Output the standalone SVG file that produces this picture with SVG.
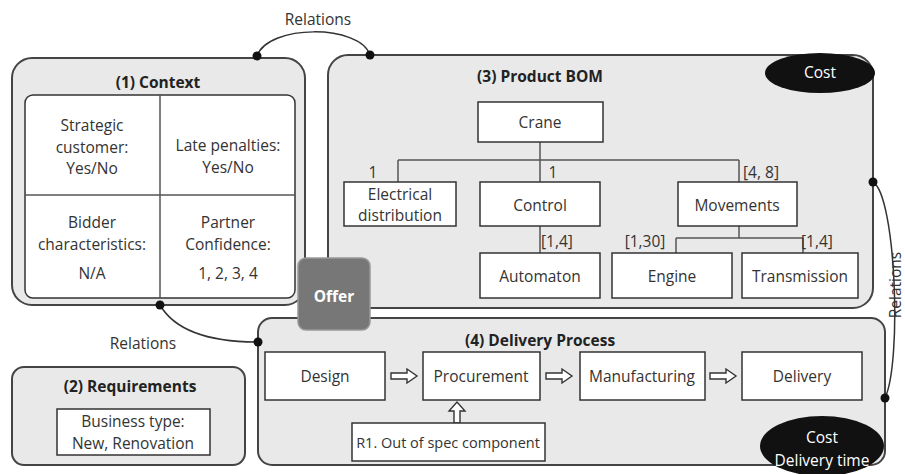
<svg xmlns="http://www.w3.org/2000/svg" width="905" height="474" viewBox="0 0 905 474">
<style>
text{font-family:"Open Sans","Liberation Sans",sans-serif;font-size:15.5px;fill:#333;text-anchor:middle;dominant-baseline:central}
.t{font-weight:bold;fill:#222;font-size:15.5px}
.panel{fill:#e9e9e9;stroke:#444;stroke-width:2}
.box{fill:#fff;stroke:#333;stroke-width:1.5}
.ln{fill:none;stroke:#555;stroke-width:1.5}
.rel{fill:none;stroke:#333;stroke-width:1.5}
.dot{fill:#111}
.ha{fill:#fff;stroke:#333;stroke-width:1.4}
.w{fill:#fff}
</style>
<g id="context">
<rect class="panel" x="12" y="58" width="293" height="247" rx="20"/>
<text class="t" x="158" y="82">(1) Context</text>
<rect class="box" x="25" y="95" width="270" height="203" rx="8"/>
<line class="ln" x1="160" y1="95" x2="160" y2="298" stroke="#333"/>
<line class="ln" x1="25" y1="195" x2="295" y2="195" stroke="#333"/>
<text x="92" y="125">Strategic</text>
<text x="92" y="147">customer:</text>
<text x="92" y="168">Yes/No</text>
<text x="228" y="145">Late penalties:</text>
<text x="228" y="167">Yes/No</text>
<text x="92" y="222">Bidder</text>
<text x="92" y="244">characteristics:</text>
<text x="92" y="273">N/A</text>
<text x="228" y="222">Partner</text>
<text x="228" y="244">Confidence:</text>
<text x="228" y="273">1, 2, 3, 4</text>
</g>
<g id="requirements">
<rect class="panel" x="12" y="367" width="233" height="98" rx="12"/>
<text class="t" x="130" y="386">(2) Requirements</text>
<rect class="box" x="57" y="409" width="153" height="46"/>
<text x="133" y="421">Business type:</text>
<text x="133" y="443">New, Renovation</text>
</g>
<g id="product-bom">
<rect class="panel" x="328" y="55" width="545" height="253" rx="20"/>
<text class="t" x="540" y="76">(3) Product BOM</text>
<ellipse cx="820" cy="73" rx="55" ry="20" fill="#111"/>
<text class="w" x="820" y="72">Cost</text>
</g>
<g id="delivery-process">
<rect class="panel" x="258" y="318" width="627" height="147" rx="14"/>
<text class="t" x="540" y="340">(4) Delivery Process</text>
<ellipse cx="822" cy="446" rx="62" ry="30" fill="#111"/>
<text class="w" x="822" y="437">Cost</text>
<text class="w" x="822" y="460">Delivery time</text>
</g>
<g id="offer">
<rect x="298" y="258" width="72" height="72" rx="8" fill="#777" stroke="#999" stroke-width="1.5"/>
<text class="t w" x="334" y="296">Offer</text>
</g>
<g id="connectors">
<path class="ln" d="M540,142 V160 M398,160 H739 M398,160 V182 M540,160 V182 M739,160 V182 M540,226 V253 M739,226 V238 M676,238 H803 M676,238 V253 M803,238 V253"/>
<path class="ha" d="M391,373 h16 v-4 l10,7 l-10,7 v-4 h-16 z"/>
<path class="ha" d="M546,373 h16 v-4 l10,7 l-10,7 v-4 h-16 z"/>
<path class="ha" d="M710,373 h16 v-4 l10,7 l-10,7 v-4 h-16 z"/>
<path class="ha" d="M454,423 v-12 h-5 l8,-9 l8,9 h-5 v12 z"/>
<path class="rel" d="M257,56 C268,24 360,24 370,55"/>
<path class="rel" d="M160,305 C178,336 222,342 258,342"/>
<path class="rel" d="M873,182 C896,196 902,362 885,398"/>
<circle class="dot" cx="257" cy="56" r="4.5"/>
<circle class="dot" cx="370" cy="55" r="4.5"/>
<circle class="dot" cx="160" cy="305" r="4.5"/>
<circle class="dot" cx="258" cy="342" r="4.5"/>
<circle class="dot" cx="873" cy="182" r="4.5"/>
<circle class="dot" cx="885" cy="398" r="4.5"/>
<text x="318" y="19">Relations</text>
<text x="143" y="343">Relations</text>
<text x="895" y="285" transform="rotate(-90 895 285)">Relations</text>
<text x="373" y="172">1</text>
<text x="553" y="172">1</text>
<text x="761" y="172">[4, 8]</text>
<text x="557" y="241">[1,4]</text>
<text x="645" y="241">[1,30]</text>
<text x="817" y="241">[1,4]</text>
</g>
<g id="crane"><rect class="box" x="478" y="102" width="125" height="40"/><text x="540" y="122">Crane</text></g>
<g id="electrical"><rect class="box" x="344" y="182" width="112" height="44"/><text x="400" y="194">Electrical</text><text x="400" y="215">distribution</text></g>
<g id="control"><rect class="box" x="480" y="182" width="120" height="44"/><text x="540" y="205">Control</text></g>
<g id="movements"><rect class="box" x="678" y="182" width="119" height="44"/><text x="737" y="205">Movements</text></g>
<g id="automaton"><rect class="box" x="480" y="253" width="120" height="45"/><text x="540" y="276">Automaton</text></g>
<g id="engine"><rect class="box" x="612" y="253" width="120" height="45"/><text x="672" y="276">Engine</text></g>
<g id="transmission"><rect class="box" x="742" y="253" width="116" height="45"/><text x="800" y="276">Transmission</text></g>
<g id="design"><rect class="box" x="265" y="352" width="120" height="48"/><text x="325" y="376">Design</text></g>
<g id="procurement"><rect class="box" x="423" y="352" width="117" height="48"/><text x="481" y="376">Procurement</text></g>
<g id="manufacturing"><rect class="box" x="580" y="352" width="125" height="48"/><text x="642" y="376">Manufacturing</text></g>
<g id="delivery"><rect class="box" x="742" y="352" width="120" height="48"/><text x="802" y="376">Delivery</text></g>
<g id="r1"><rect class="box" x="352" y="423" width="193" height="38"/><text x="448" y="442" style="font-size:14.5px">R1. Out of spec component</text></g>
</svg>
